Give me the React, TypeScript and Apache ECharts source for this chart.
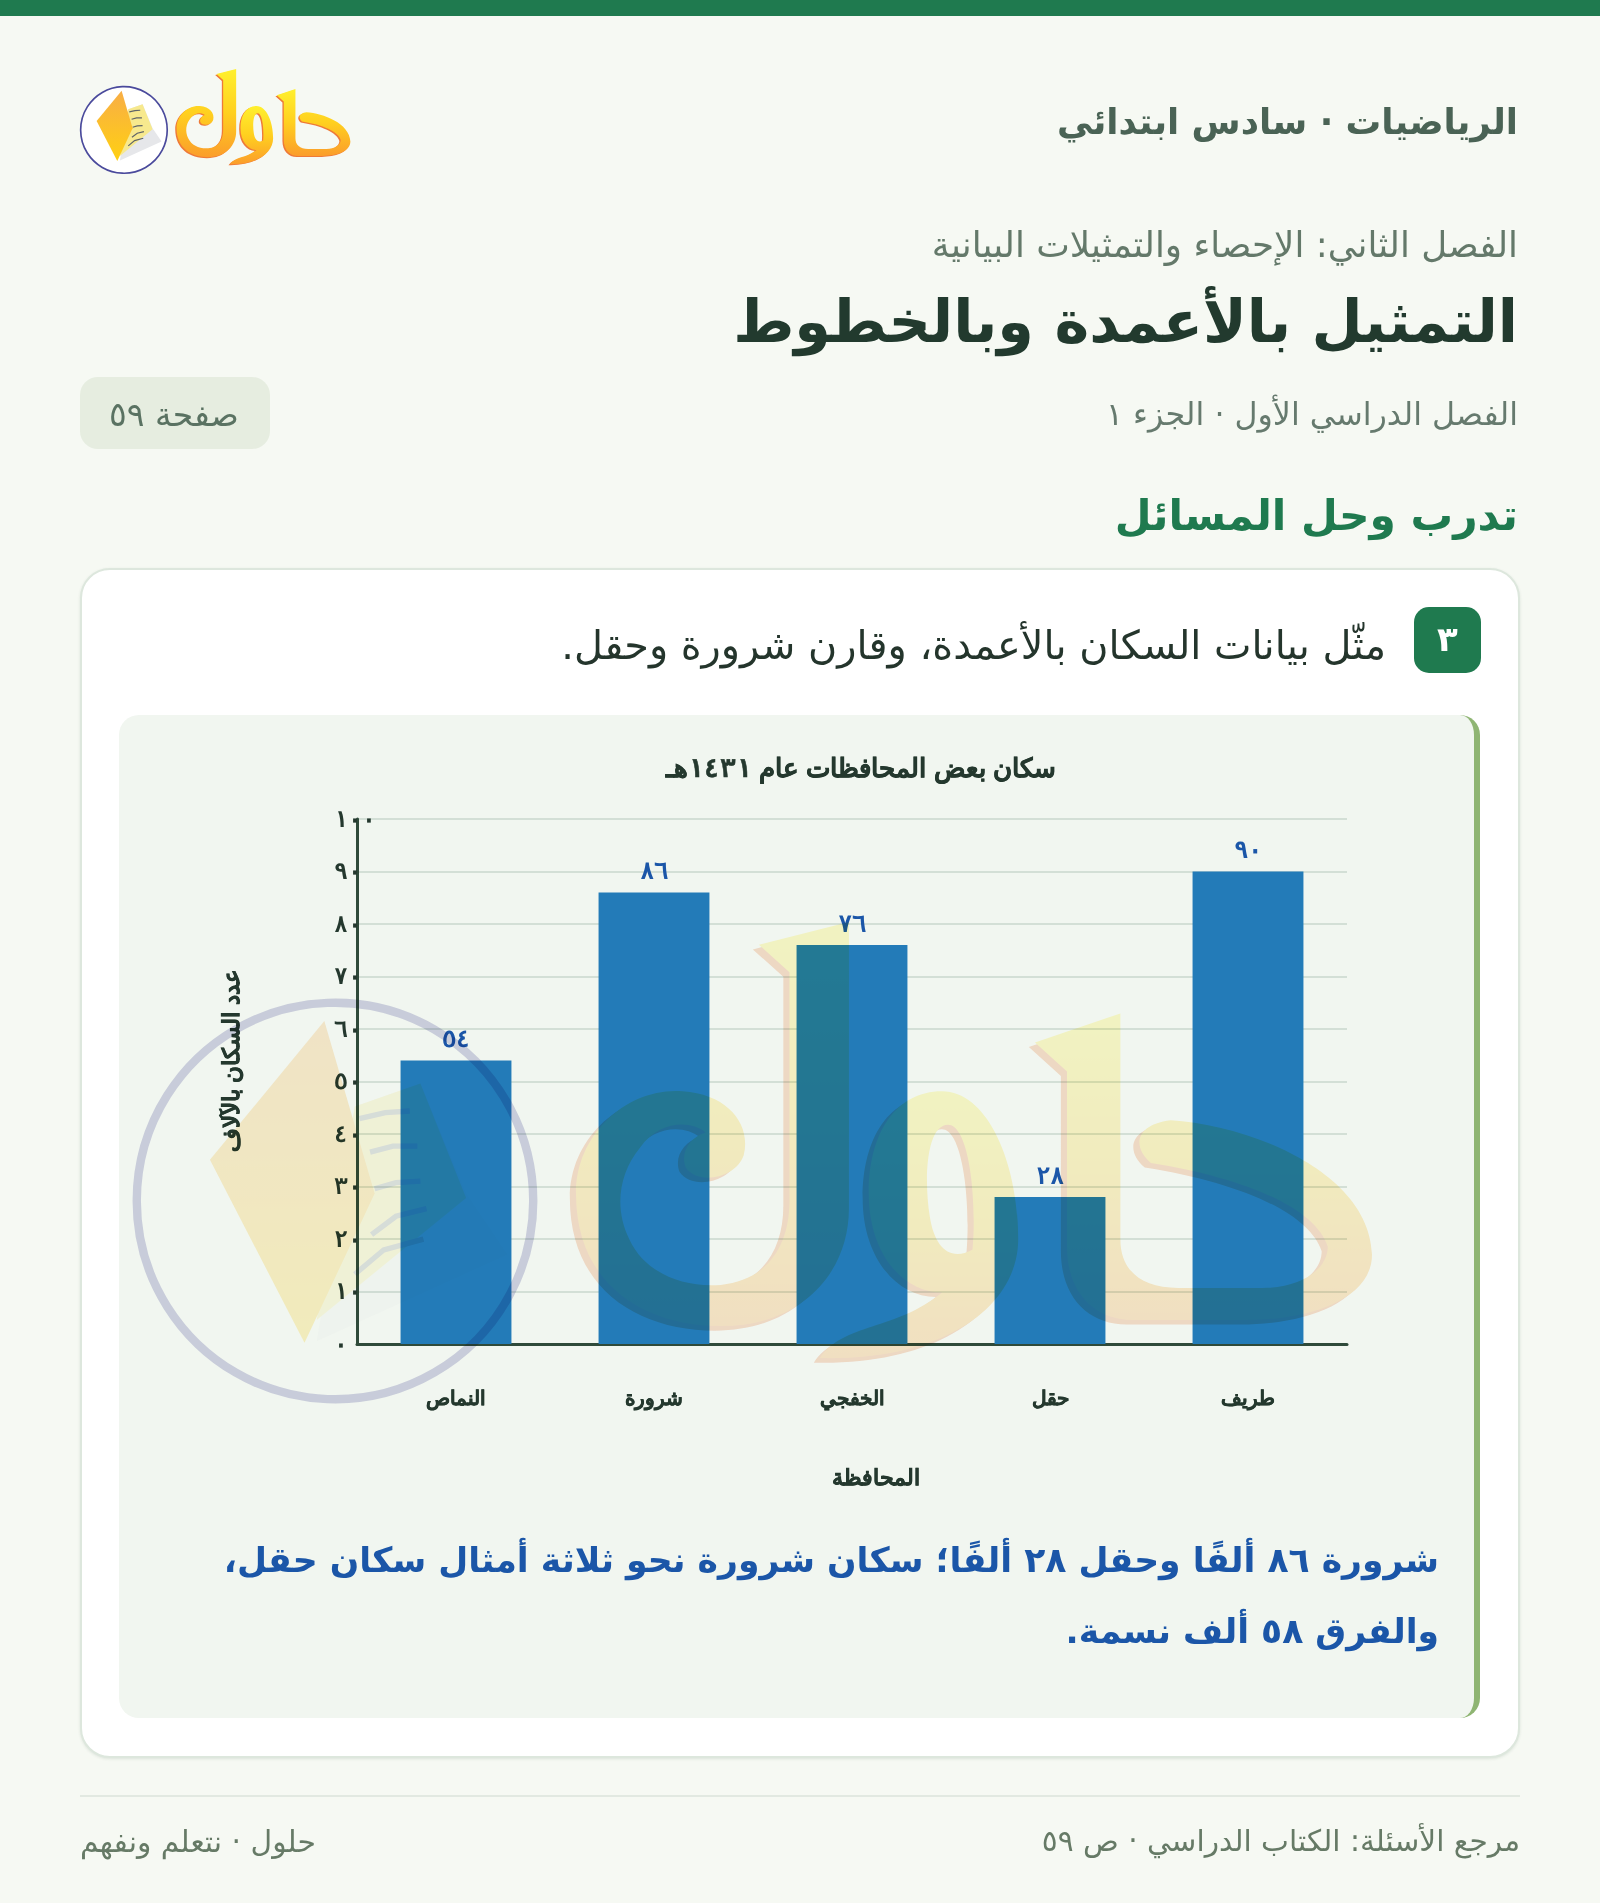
import React, { useEffect, useRef } from "react";
import * as echarts from "echarts";

const categories = ["النماص", "شرورة", "الخفجي", "حقل", "طريف"];
const populations = [54, 86, 76, 28, 90];
const valueLabels = ["٥٤", "٨٦", "٧٦", "٢٨", "٩٠"];
const yTickLabels = ["٠", "١٠", "٢٠", "٣٠", "٤٠", "٥٠", "٦٠", "٧٠", "٨٠", "٩٠", "١٠٠"];
const chartTitle = "سكان بعض المحافظات عام ١٤٣١هـ";
const xAxisName = "المحافظة";
const yAxisName = "عدد السكان بالآلاف";

const BOWL = "M470 72 L529 57 L529 245 C529 285 500 322 445 322 C395 322 350 295 350 235 C350 195 385 165 420 168 C450 170 465 190 460 210 C455 225 430 230 422 218 C418 208 425 198 435 195 C425 187 405 187 392 205 C378 222 375 245 385 265 C395 287 420 297 445 295 C475 292 490 270 490 240 L490 90 Z";
const WAW = "M510 343 C525 320 560 325 590 300 C565 300 542 275 542 235 C542 195 560 168 590 168 C620 168 640 215 640 265 C640 310 590 345 510 343 Z M594 190 C580 190 578 225 582 250 C585 270 595 280 610 272 C613 240 608 190 594 190 Z";
const HA = "M651 136 L707 117 L707 265 C707 285 720 297 745 297 L800 297 C825 297 843 285 843 270 C835 245 790 225 727 215 C715 205 716 190 740 187 C790 190 870 220 872 275 C872 305 830 318 790 318 L715 318 C690 318 672 300 672 270 L672 155 Z";
(echarts as any).graphic.registerShape("wordBowl", (echarts as any).graphic.extendPath(BOWL, {}));
(echarts as any).graphic.registerShape("wordWaw", (echarts as any).graphic.extendPath(WAW, {}));
(echarts as any).graphic.registerShape("wordHa", (echarts as any).graphic.extendPath(HA, {}));

function logoChildren(isLogo: boolean) {
  const grad = () => new (echarts as any).graphic.LinearGradient(0, 0, 0, 1, [
    { offset: 0, color: "#fff02e" },
    { offset: 0.5, color: "#ffd01f" },
    { offset: 1, color: "#fb9d2b" },
  ]);
  const word = ["wordBowl", "wordWaw", "wordHa"];
  const lineColor = isLogo ? "#5f6468" : "#8a8f94";
  const children: any[] = [
    { type: "circle", shape: { cx: 192, cy: 240, r: 130 }, style: { fill: isLogo ? "#ffffff" : "none", stroke: "#4a4a9c", lineWidth: isLogo ? 5 : 5.5 } },
    { type: "polygon", shape: { points: [[205, 178], [248, 163], [278, 235], [305, 275], [180, 332]] }, style: { fill: isLogo ? "#e6e7ea" : "#f3f3f5" } },
    { type: "polygon", shape: { points: [[205, 178], [248, 163], [278, 238], [180, 318]] }, style: { fill: "#f7e98e" } },
    { type: "polyline", shape: { points: [[208, 186], [225, 182], [241, 181]] }, style: { fill: "none", stroke: lineColor, lineWidth: 3.5 } },
    { type: "polyline", shape: { points: [[215, 208], [230, 204], [246, 204]] }, style: { fill: "none", stroke: lineColor, lineWidth: 3.5 } },
    { type: "polyline", shape: { points: [[218, 232], [232, 228], [248, 227]] }, style: { fill: "none", stroke: lineColor, lineWidth: 3.5 } },
    { type: "polyline", shape: { points: [[216, 262], [232, 250], [252, 245]] }, style: { fill: "none", stroke: lineColor, lineWidth: 3.5 } },
    { type: "polyline", shape: { points: [[205, 288], [224, 272], [250, 265]] }, style: { fill: "none", stroke: lineColor, lineWidth: 3.5 } },
    {
      type: "polygon",
      shape: { points: [[185, 122], [110, 213], [172, 333], [218, 235]] },
      style: {
        fill: new (echarts as any).graphic.LinearGradient(0, 0, 0, 1, [
          { offset: 0, color: "#f8ae46" },
          { offset: 1, color: "#ffd012" },
        ]),
      },
    },
  ];
  word.forEach((t) => children.push({ type: t, x: -4, y: 3, style: { fill: "#ee7a38" } }));
  word.forEach((t) => children.push({ type: t, style: { fill: grad() } }));
  return children;
}

const fontCss = `@font-face{font-family:"ChartDigits";src:local("DejaVu Sans Mono Bold"),local("DejaVuSansMono-Bold");font-weight:700;unicode-range:U+0660-0669;}`;
const font = '"ChartDigits", "Liberation Sans", Arial, sans-serif';
const pageFont = '"DejaVu Sans", sans-serif';
const inkDark = "#24382e";
const heavy = { textBorderColor: inkDark, textBorderWidth: 0.5 };

function Txt(p: { right?: number; left?: number; cy: number; size: number; color: string; bold?: boolean; children: any }) {
  const h = p.size * 2;
  return (
    <div
      dir="rtl"
      style={{
        position: "absolute",
        ...(p.right !== undefined ? { right: 1600 - p.right } : { left: p.left }),
        top: p.cy - h / 2,
        height: h,
        lineHeight: h + "px",
        fontSize: p.size,
        color: p.color,
        fontWeight: p.bold ? 700 : 400,
        whiteSpace: "nowrap",
        fontFamily: pageFont,
      }}
    >
      {p.children}
    </div>
  );
}

export default function App() {
  const chartRef = useRef<HTMLDivElement>(null);
  const overlayRef = useRef<HTMLDivElement>(null);
  useEffect(() => {
    document.body.style.margin = "0";
    const chart = echarts.init(chartRef.current!, undefined, { renderer: "svg" });
    const overlay = echarts.init(overlayRef.current!, undefined, { renderer: "svg" });
    chart.setOption({
      animation: false,
      backgroundColor: "transparent",
      title: {
        text: chartTitle,
        left: 856,
        top: 750,
        textAlign: "center",
        textStyle: { fontFamily: font, fontSize: 25.5, fontWeight: 700, color: inkDark, ...heavy },
      },
      grid: { left: 357, right: 253, top: 819, bottom: 559 },
      xAxis: {
        type: "category",
        data: categories,
        name: xAxisName,
        nameLocation: "middle",
        nameGap: 123,
        nameTextStyle: { fontFamily: font, fontSize: 21.5, fontWeight: 700, color: inkDark, padding: [0, 0, 0, 48], ...heavy },
        axisLine: { lineStyle: { color: "#2f4a3a", width: 3 } },
        axisTick: { show: false },
        axisLabel: { interval: 0, margin: 44, fontFamily: font, fontSize: 19.5, fontWeight: 700, color: inkDark, ...heavy },
      },
      yAxis: {
        type: "value",
        min: 0,
        max: 100,
        interval: 10,
        name: yAxisName,
        nameLocation: "middle",
        nameGap: 115,
        nameTextStyle: { fontFamily: font, fontSize: 23, fontWeight: 700, color: inkDark, padding: [0, 0, 0, 42], ...heavy },
        axisLine: { show: true, onZero: false, lineStyle: { color: "#2f4a3a", width: 3 } },
        axisTick: { show: false },
        splitLine: { show: true, lineStyle: { color: "#c9d7ce", width: 1.5 } },
        axisLabel: {
          margin: 23,
          align: "left",
          fontFamily: font,
          fontSize: 22.5,
          fontWeight: 700,
          color: inkDark,
          formatter: (v: number) => yTickLabels[Math.round(v / 10)],
        },
      },
      series: [
        {
          type: "bar",
          data: populations,
          barWidth: "56%",
          itemStyle: { color: "#237bb8" },
          label: {
            show: true,
            position: "top",
            distance: 10,
            fontFamily: font,
            fontSize: 24,
            fontWeight: 700,
            color: "#1b56a8",
            formatter: (p: any) => valueLabels[p.dataIndex],
          },
        },
      ],
      graphic: [
        { type: "group", x: 60, y: 50, scaleX: 1 / 3, scaleY: 1 / 3, children: logoChildren(true) },
      ],
    });
    overlay.setOption({
      animation: false,
      backgroundColor: "transparent",
      graphic: [
        { type: "group", x: 42.2, y: 835, scaleX: 1.525, scaleY: 1.525, children: logoChildren(false) },
      ],
    });
    return () => {
      chart.dispose();
      overlay.dispose();
    };
  }, []);

  return (
    <div style={{ position: "relative", width: 1600, height: 1903, background: "#f6f9f3", overflow: "hidden" }}>
      <style>{fontCss}</style>
      <div style={{ position: "absolute", left: 0, top: 0, width: 1600, height: 16, background: "#1f7a4f" }} />
      <Txt right={1518} cy={122} size={35.6} color="#4a6355" bold>الرياضيات · سادس ابتدائي</Txt>
      <Txt right={1518} cy={245} size={35.7} color="#64796a">الفصل الثاني: الإحصاء والتمثيلات البيانية</Txt>
      <Txt right={1518} cy={322} size={58.9} color="#223a2e" bold>التمثيل بالأعمدة وبالخطوط</Txt>
      <Txt right={1518} cy={415} size={31.7} color="#667a6e">الفصل الدراسي الأول · الجزء ١</Txt>
      <div style={{ position: "absolute", left: 80, top: 377, width: 190, height: 72, borderRadius: 18, background: "#e6ede0" }} />
      <Txt left={109} cy={415} size={33} color="#5a7262">صفحة ٥٩</Txt>
      <Txt right={1518} cy={516} size={42.4} color="#1f7a4f" bold>تدرب وحل المسائل</Txt>
      <div style={{ position: "absolute", left: 80, top: 568, width: 1440, height: 1190, boxSizing: "border-box", borderRadius: 30, background: "#ffffff", border: "2px solid #dde7dd", boxShadow: "0 1px 3px rgba(30,70,50,.12)" }} />
      <div style={{ position: "absolute", left: 1414, top: 607, width: 67, height: 66, borderRadius: 15, background: "#1f7a4f", color: "#fff", fontFamily: pageFont, fontWeight: 700, fontSize: 34, textAlign: "center", lineHeight: "64px" }}>٣</div>
      <Txt right={1386} cy={646} size={39.8} color="#24352c">مثّل بيانات السكان بالأعمدة، وقارن شرورة وحقل.</Txt>
      <div style={{ position: "absolute", left: 119, top: 715, width: 1361, height: 1003, boxSizing: "border-box", borderRadius: 20, background: "#f1f6f0", borderRight: "6px solid #8fb573" }} />
      <Txt right={1439} cy={1561} size={34.6} color="#1b56a8" bold>شرورة ٨٦ ألفًا وحقل ٢٨ ألفًا؛ سكان شرورة نحو ثلاثة أمثال سكان حقل،</Txt>
      <Txt right={1439} cy={1632} size={34.6} color="#1b56a8" bold>والفرق ٥٨ ألف نسمة.</Txt>
      <div style={{ position: "absolute", left: 80, top: 1795, width: 1440, height: 2, background: "#e2e9e1" }} />
      <Txt right={1520} cy={1842} size={29.6} color="#667a66">مرجع الأسئلة: الكتاب الدراسي · ص ٥٩</Txt>
      <Txt left={80} cy={1842} size={29.8} color="#667a66">حلول · نتعلم ونفهم</Txt>
      <div ref={chartRef} style={{ position: "absolute", left: 0, top: 0, width: 1600, height: 1903 }} />
      <div ref={overlayRef} style={{ position: "absolute", left: 0, top: 0, width: 1600, height: 1903, opacity: 0.24, mixBlendMode: "multiply", pointerEvents: "none" }} />
    </div>
  );
}
